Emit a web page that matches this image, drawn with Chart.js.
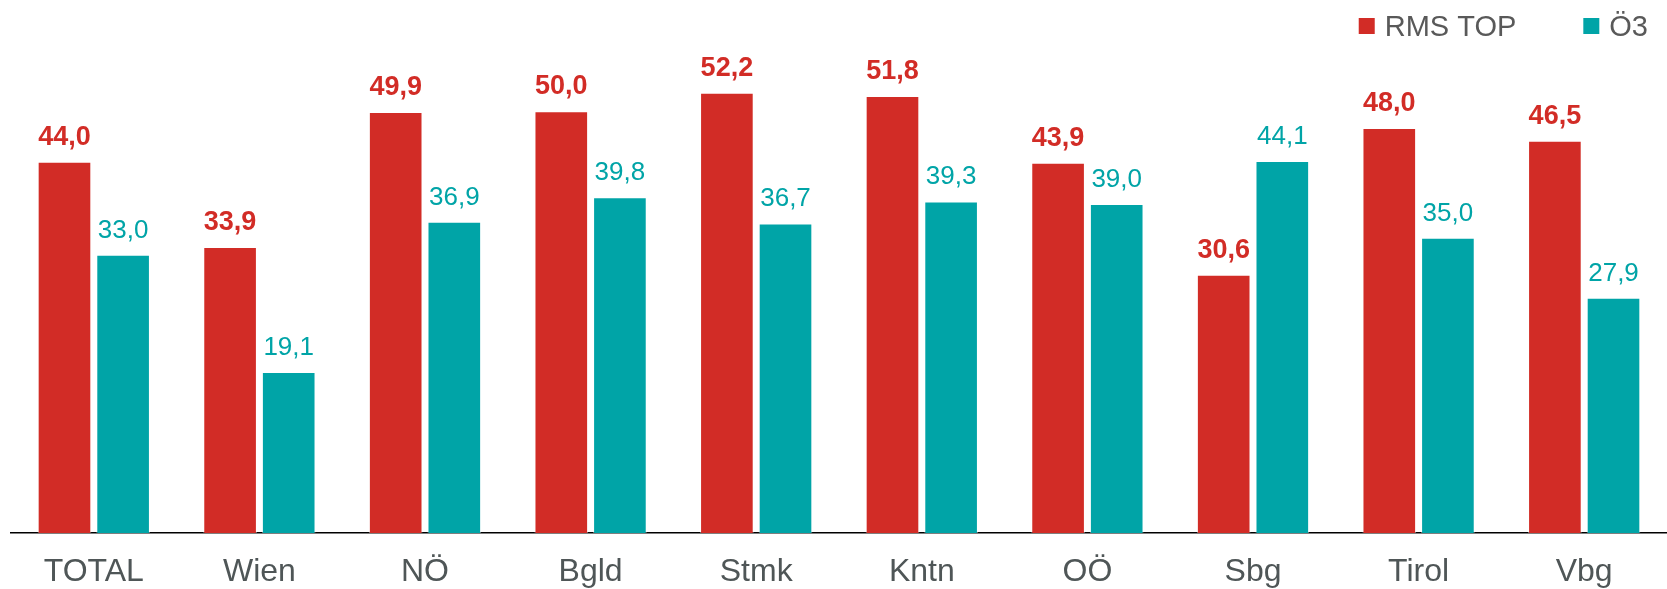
<!DOCTYPE html>
<html>
<head>
<meta charset="utf-8">
<script src="https://cdn.jsdelivr.net/npm/chart.js@4.4.1/dist/chart.umd.min.js"></script>
<style>
  html, body { margin: 0; padding: 0; background: #fff; }
  #wrap { width: 1667px; height: 589px; }
</style>
</head>
<body>
<div id="wrap"><canvas id="barChart"></canvas></div>
<script>
    // Regions and values
    const regions = ['TOTAL', 'Wien', 'NÖ', 'Bgld', 'Stmk', 'Kntn', 'OÖ', 'Sbg', 'Tirol', 'Vbg'];
    const rmsTop = [44.0, 33.9, 49.9, 50.0, 52.2, 51.8, 43.9, 30.6, 48.0, 46.5];
    const oe3 = [33.0, 19.1, 36.9, 39.8, 36.7, 39.3, 39.0, 44.1, 35.0, 27.9];

    const RED = '#D22C26';
    const TEAL = '#00A4A7';
    const FONT = '"Liberation Sans", Arial, sans-serif';

    const fmt = v => v.toFixed(1).replace('.', ',');

    // value labels above the bars
    const valueLabels = {
      id: 'valueLabels',
      afterDatasetsDraw(chart) {
        const ctx = chart.ctx;
        ctx.save();
        ctx.textAlign = 'center';
        ctx.textBaseline = 'alphabetic';
        chart.data.datasets.forEach((ds, i) => {
          const meta = chart.getDatasetMeta(i);
          ctx.fillStyle = ds.backgroundColor;
          ctx.font = i === 0 ? 'bold 27px ' + FONT : '26px ' + FONT;
          meta.data.forEach((bar, j) => {
            ctx.fillText(fmt(ds.data[j]), bar.x, bar.y - 17);
          });
        });
        ctx.restore();
      }
    };

    // simple legend top right
    const cornerLegend = {
      id: 'cornerLegend',
      afterDraw(chart) {
        const ctx = chart.ctx;
        ctx.save();
        ctx.font = '29px ' + FONT;
        ctx.textBaseline = 'alphabetic';
        let x = chart.width - 19;
        const items = chart.data.datasets.slice().reverse();
        items.forEach(ds => {
          const w = ctx.measureText(ds.label).width;
          const textX = x - w;
          const boxX = textX - 10 - 16;
          ctx.fillStyle = ds.backgroundColor;
          ctx.fillRect(boxX, 18, 16, 16);
          ctx.fillStyle = '#595959';
          ctx.fillText(ds.label, textX, 36);
          x = boxX - 67;
        });
        ctx.restore();
      }
    };

    const ctx1 = document.getElementById('barChart').getContext('2d');
    new Chart(ctx1, {
      type: 'bar',
      data: {
        labels: regions,
        datasets: [{
          label: 'RMS TOP',
          data: rmsTop,
          backgroundColor: RED,
          borderColor: 'rgba(255,255,255,0.45)',
          borderWidth: 1,
          categoryPercentage: 0.708,
          barPercentage: 0.915
        }, {
          label: 'Ö3',
          data: oe3,
          backgroundColor: TEAL,
          borderColor: 'rgba(255,255,255,0.45)',
          borderWidth: 1,
          categoryPercentage: 0.708,
          barPercentage: 0.915
        }]
      },
      options: {
        responsive: true,
        maintainAspectRatio: false,
        animation: false,
        // ticks.padding is counted twice in the axis height, pull the bottom back
        layout: { padding: { left: 11, right: 0, top: 10, bottom: -22 } },
        plugins: {
          legend: { display: false },
          tooltip: { enabled: false }
        },
        scales: {
          x: {
            grid: { display: false, drawTicks: false },
            border: { display: true, color: '#000', width: 1.5 },
            ticks: {
              padding: 23,
              color: '#4F5657',
              font: { family: FONT, size: 32, lineHeight: 1 }
            }
          },
          y: {
            display: false,
            min: 0,
            max: 62
          }
        }
      },
      plugins: [valueLabels, cornerLegend]
    });
</script>
</body>
</html>
